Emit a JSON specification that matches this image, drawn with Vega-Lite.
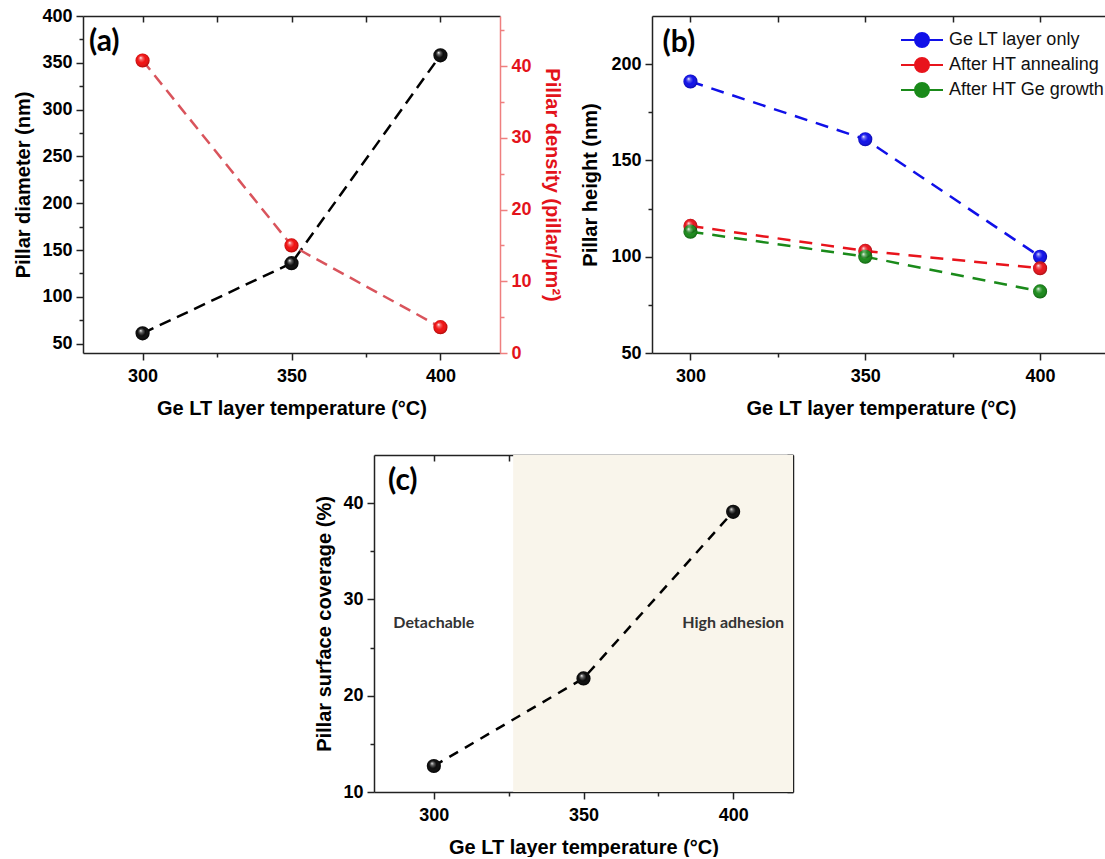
{
  "$schema": "https://vega.github.io/schema/vega-lite/v6.json",
  "padding": {"left": 13, "top": 7, "right": 0, "bottom": 0},
  "bounds": "flush",
  "spacing": 439,
  "config": {
    "view": {"stroke": null},
    "axis": {"labelFont": "Liberation Sans", "labelFontWeight": "bold", "labelFontSize": 18, "labelColor": "#000",
             "titleFont": "Liberation Sans", "titleFontWeight": "bold", "titleFontSize": 20, "titleColor": "#000",
             "domainColor": "#222", "domainWidth": 1.5, "tickColor": "#222", "tickWidth": 1.5, "tickSize": 7,
             "grid": false, "labelPadding": 4}
  },
  "vconcat": [
    {
      "bounds": "flush",
      "spacing": 152,
      "hconcat": [
        {
          "width": 417, "height": 337,
          "data": {"values": [
            {"temp": 300, "diameter": 61, "density": 40.8},
            {"temp": 350, "diameter": 136, "density": 15},
            {"temp": 400, "diameter": 358, "density": 3.6}
          ]},
          "layer": [
            {"mark": {"type": "line", "color": "#000", "strokeDash": [12, 7], "strokeWidth": 2.5},
             "encoding": {
               "x": {"field": "temp", "type": "quantitative", "scale": {"domain": [280, 420], "nice": false, "zero": false},
                     "axis": {"orient": "bottom", "values": [300, 350, 400], "title": "Ge LT layer temperature (°C)", "labelPadding": 7, "titlePadding": 13}},
               "y": {"field": "diameter", "type": "quantitative", "scale": {"domain": [40, 400], "nice": false, "zero": false},
                     "axis": {"orient": "left", "values": [50, 100, 150, 200, 250, 300, 350, 400], "title": "Pillar diameter (nm)", "titlePadding": 8}}}},
            {"mark": {"type": "line", "color": "#d9545c", "strokeDash": [12, 7], "strokeWidth": 2.5},
             "encoding": {
               "x": {"field": "temp", "type": "quantitative", "axis": {"orient": "top", "values": [300, 325, 350, 375, 400], "labels": false, "tickSize": -6, "title": null}},
               "y": {"field": "density", "type": "quantitative", "scale": {"domain": [0, 47], "nice": false, "zero": false},
                     "axis": {"orient": "right", "values": [0, 10, 20, 30, 40], "title": "Pillar density (pillar/μm²)", "domainColor": "#ef7f7f", "tickColor": "#ef7f7f", "labelColor": "#e3131b", "titleColor": "#e3131b", "titlePadding": 10}}}},
            {"mark": {"type": "point", "filled": true, "opacity": 1, "size": 200, "color": "#0a0a0a"},
             "encoding": {
               "x": {"field": "temp", "type": "quantitative", "axis": {"orient": "bottom", "values": [325, 375], "labels": false, "domain": false, "tickSize": 4, "title": null}},
               "y": {"field": "diameter", "type": "quantitative", "scale": {"domain": [40, 400], "nice": false, "zero": false},
                     "axis": {"orient": "left", "values": [75, 125, 175, 225, 275, 325, 375], "labels": false, "domain": false, "tickSize": 4, "title": null}}}},
            {"mark": {"type": "point", "filled": true, "opacity": 1, "size": 200, "color": "#f01010"},
             "encoding": {
               "x": {"field": "temp", "type": "quantitative", "axis": null},
               "y": {"field": "density", "type": "quantitative", "scale": {"domain": [0, 47], "nice": false, "zero": false},
                     "axis": {"orient": "right", "values": [5, 15, 25, 35, 45], "labels": false, "domain": false, "tickSize": 4, "title": null, "tickColor": "#ef7f7f"}}}},
            {"mark": {"type": "point", "filled": true, "opacity": 1, "size": 200, "strokeWidth": 0,
                      "fill": {"gradient": "radial", "x1": 0.36, "y1": 0.3, "r1": 0, "x2": 0.5, "y2": 0.5, "r2": 0.55,
                               "stops": [{"offset": 0, "color": "rgba(255,255,255,0.95)"}, {"offset": 0.22, "color": "rgba(255,255,255,0.35)"}, {"offset": 0.5, "color": "rgba(255,255,255,0)"}, {"offset": 0.85, "color": "rgba(0,0,0,0.15)"}, {"offset": 1, "color": "rgba(0,0,0,0.45)"}]}},
             "encoding": {
               "x": {"field": "temp", "type": "quantitative", "axis": null},
               "y": {"field": "diameter", "type": "quantitative", "scale": {"domain": [40, 400], "nice": false, "zero": false}, "axis": null}}},
            {"mark": {"type": "point", "filled": true, "opacity": 1, "size": 200, "strokeWidth": 0,
                      "fill": {"gradient": "radial", "x1": 0.36, "y1": 0.3, "r1": 0, "x2": 0.5, "y2": 0.5, "r2": 0.55,
                               "stops": [{"offset": 0, "color": "rgba(255,255,255,0.95)"}, {"offset": 0.22, "color": "rgba(255,255,255,0.35)"}, {"offset": 0.5, "color": "rgba(255,255,255,0)"}, {"offset": 0.85, "color": "rgba(0,0,0,0.15)"}, {"offset": 1, "color": "rgba(0,0,0,0.45)"}]}},
             "encoding": {
               "x": {"field": "temp", "type": "quantitative", "axis": null},
               "y": {"field": "density", "type": "quantitative", "scale": {"domain": [0, 47], "nice": false, "zero": false}, "axis": null}}},
            {"data": {"values": [{"label": "(a)", "tx": 282, "ty": 372}]},
             "mark": {"type": "text", "font": "Lato", "fontWeight": "bold", "fontSize": 30, "align": "left", "baseline": "middle", "color": "#000"},
             "encoding": {
               "x": {"field": "tx", "type": "quantitative", "axis": null},
               "y": {"field": "ty", "type": "quantitative", "scale": {"domain": [40, 400], "nice": false, "zero": false}, "axis": null},
               "text": {"field": "label"}}}
          ],
          "resolve": {"scale": {"y": "independent"}, "axis": {"x": "independent", "y": "independent"}}
        },
        {
          "width": 458, "height": 337,
          "data": {"values": [
            {"temp": 300, "height": 191, "series": "Ge LT layer only"},
            {"temp": 350, "height": 161, "series": "Ge LT layer only"},
            {"temp": 400, "height": 100, "series": "Ge LT layer only"},
            {"temp": 300, "height": 116, "series": "After HT annealing"},
            {"temp": 350, "height": 103, "series": "After HT annealing"},
            {"temp": 400, "height": 94, "series": "After HT annealing"},
            {"temp": 300, "height": 113, "series": "After HT Ge growth"},
            {"temp": 350, "height": 100, "series": "After HT Ge growth"},
            {"temp": 400, "height": 82, "series": "After HT Ge growth"}
          ]},
          "layer": [
            {"mark": {"type": "line", "strokeDash": [13, 9], "strokeWidth": 2.5},
             "encoding": {
               "x": {"field": "temp", "type": "quantitative", "scale": {"domain": [289, 420], "nice": false, "zero": false},
                     "axis": {"orient": "bottom", "values": [300, 350, 400], "title": "Ge LT layer temperature (°C)", "labelPadding": 7, "titlePadding": 13}},
               "y": {"field": "height", "type": "quantitative", "scale": {"domain": [50, 225], "nice": false, "zero": false},
                     "axis": {"orient": "left", "values": [50, 100, 150, 200], "title": "Pillar height (nm)", "titlePadding": 10}},
               "color": {"field": "series", "type": "nominal",
                         "scale": {"domain": ["Ge LT layer only", "After HT annealing", "After HT Ge growth"], "range": ["#1010e8", "#e8141c", "#1a8a1a"]},
                         "legend": {"title": null, "orient": "none", "legendX": 828, "legendY": 13, "padding": 0,
                                    "symbolType": "M-2.1,0L-0.7,0M0.7,0L2.1,0M-0.7,0A0.7,0.7,0,1,1,0.7,0A0.7,0.7,0,1,1,-0.7,0Z",
                                    "symbolSize": 400, "symbolStrokeWidth": 2, "labelFont": "Liberation Sans", "labelFontSize": 18,
                                    "labelColor": "#111", "labelOffset": 16, "rowPadding": 3, "labelLimit": 300,
                                    "encode": {"symbols": {"update": {"fill": {"scale": "color", "field": "value"}, "stroke": {"scale": "color", "field": "value"}, "opacity": {"value": 1}}}}}}}},
            {"mark": {"type": "point", "filled": true, "opacity": 1, "size": 200},
             "encoding": {
               "x": {"field": "temp", "type": "quantitative", "axis": {"orient": "top", "values": [300, 325, 350, 375, 400], "labels": false, "tickSize": -6, "title": null}},
               "y": {"field": "height", "type": "quantitative", "axis": {"orient": "left", "values": [75, 125, 175], "labels": false, "domain": false, "tickSize": 4, "title": null}},
               "color": {"field": "series", "type": "nominal"}}},
            {"mark": {"type": "point", "filled": true, "opacity": 1, "size": 200, "strokeWidth": 0,
                      "fill": {"gradient": "radial", "x1": 0.36, "y1": 0.3, "r1": 0, "x2": 0.5, "y2": 0.5, "r2": 0.55,
                               "stops": [{"offset": 0, "color": "rgba(255,255,255,0.95)"}, {"offset": 0.22, "color": "rgba(255,255,255,0.35)"}, {"offset": 0.5, "color": "rgba(255,255,255,0)"}, {"offset": 0.85, "color": "rgba(0,0,0,0.15)"}, {"offset": 1, "color": "rgba(0,0,0,0.45)"}]}},
             "encoding": {
               "x": {"field": "temp", "type": "quantitative", "axis": {"orient": "bottom", "values": [325, 375], "labels": false, "domain": false, "tickSize": 4, "title": null}},
               "y": {"field": "height", "type": "quantitative", "axis": null}}},
            {"data": {"values": [{"label": "(b)", "tx": 292, "ty": 211}]},
             "mark": {"type": "text", "font": "Lato", "fontWeight": "bold", "fontSize": 30, "align": "left", "baseline": "middle", "color": "#000"},
             "encoding": {
               "x": {"field": "tx", "type": "quantitative", "axis": null},
               "y": {"field": "ty", "type": "quantitative", "axis": null},
               "text": {"field": "label"}}}
          ],
          "resolve": {"axis": {"x": "independent", "y": "independent"}}
        }
      ]
    },
    {
      "bounds": "flush",
      "spacing": 0,
      "hconcat": [
        {"width": 291, "height": 337, "data": {"values": []}, "mark": "point"},
        {
          "width": 419, "height": 337,
          "data": {"values": [
            {"temp": 300, "coverage": 12.7},
            {"temp": 350, "coverage": 21.8},
            {"temp": 400, "coverage": 39.1}
          ]},
          "layer": [
            {"data": {"values": [{"start": 326.5, "end": 420, "low": 10, "high": 45}]},
             "mark": {"type": "rect", "color": "#f9f5eb"},
             "encoding": {
               "x": {"field": "start", "type": "quantitative", "scale": {"domain": [280, 420], "nice": false, "zero": false}, "axis": null},
               "x2": {"field": "end"},
               "y": {"field": "low", "type": "quantitative", "scale": {"domain": [10, 45], "nice": false, "zero": false}, "axis": null},
               "y2": {"field": "high"}}},
            {"data": {"values": [{"label": "Detachable", "tx": 300, "ty": 27.6}, {"label": "High adhesion", "tx": 400, "ty": 27.6}]},
             "mark": {"type": "text", "font": "Lato", "fontWeight": "bold", "fontSize": 16, "color": "#333", "align": "center", "baseline": "middle"},
             "encoding": {
               "x": {"field": "tx", "type": "quantitative", "axis": null},
               "y": {"field": "ty", "type": "quantitative", "axis": null},
               "text": {"field": "label"}}},
            {"mark": {"type": "line", "color": "#000", "strokeDash": [10, 8], "strokeWidth": 2.5},
             "encoding": {
               "x": {"field": "temp", "type": "quantitative", "axis": {"orient": "bottom", "values": [300, 350, 400], "title": "Ge LT layer temperature (°C)", "labelPadding": 7, "titlePadding": 13}},
               "y": {"field": "coverage", "type": "quantitative", "axis": {"orient": "left", "values": [10, 20, 30, 40], "title": "Pillar surface coverage (%)", "titlePadding": 8}}}},
            {"mark": {"type": "point", "filled": true, "opacity": 1, "size": 200, "color": "#0a0a0a"},
             "encoding": {
               "x": {"field": "temp", "type": "quantitative", "axis": {"orient": "top", "values": [300, 325, 350, 375, 400], "labels": false, "tickSize": -6, "title": null}},
               "y": {"field": "coverage", "type": "quantitative", "axis": {"orient": "right", "values": [10, 15, 20, 25, 30, 35, 40, 45], "labels": false, "tickSize": -6, "title": null}}}},
            {"mark": {"type": "point", "filled": true, "opacity": 1, "size": 200, "strokeWidth": 0,
                      "fill": {"gradient": "radial", "x1": 0.36, "y1": 0.3, "r1": 0, "x2": 0.5, "y2": 0.5, "r2": 0.55,
                               "stops": [{"offset": 0, "color": "rgba(255,255,255,0.95)"}, {"offset": 0.22, "color": "rgba(255,255,255,0.35)"}, {"offset": 0.5, "color": "rgba(255,255,255,0)"}, {"offset": 0.85, "color": "rgba(0,0,0,0.15)"}, {"offset": 1, "color": "rgba(0,0,0,0.45)"}]}},
             "encoding": {
               "x": {"field": "temp", "type": "quantitative", "axis": {"orient": "bottom", "values": [325, 375], "labels": false, "domain": false, "tickSize": 4, "title": null}},
               "y": {"field": "coverage", "type": "quantitative", "axis": {"orient": "left", "values": [15, 25, 35], "labels": false, "domain": false, "tickSize": 4, "title": null}}}},
            {"data": {"values": [{"label": "(c)", "tx": 284.7, "ty": 42.3}]},
             "mark": {"type": "text", "font": "Lato", "fontWeight": "bold", "fontSize": 30, "align": "left", "baseline": "middle", "color": "#000"},
             "encoding": {
               "x": {"field": "tx", "type": "quantitative", "axis": null},
               "y": {"field": "ty", "type": "quantitative", "axis": null},
               "text": {"field": "label"}}}
          ],
          "resolve": {"axis": {"x": "independent", "y": "independent"}}
        }
      ]
    }
  ]
}
